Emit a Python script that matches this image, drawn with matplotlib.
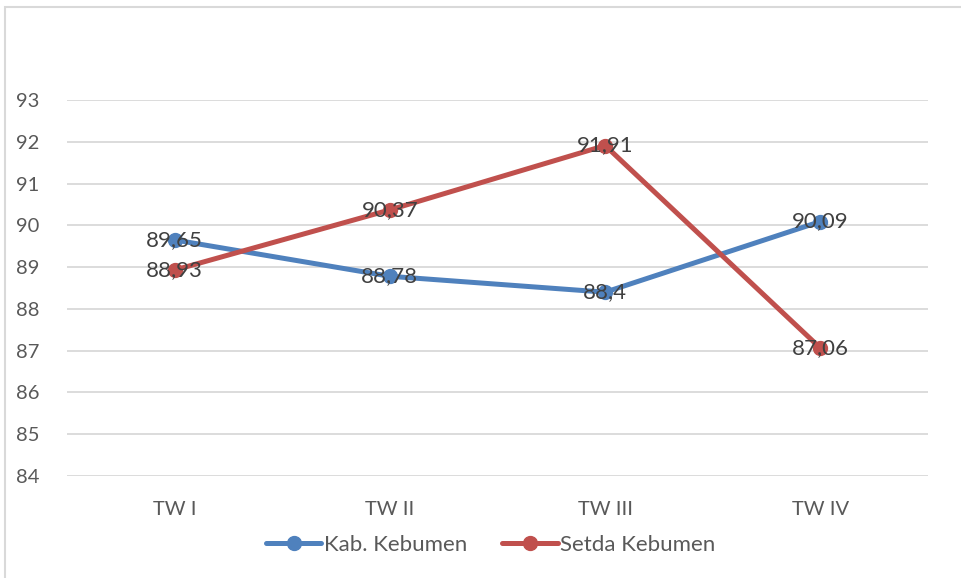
import matplotlib
matplotlib.use("Agg")
import matplotlib.pyplot as plt
from matplotlib.patches import Rectangle

# Data
categories = ["TW I", "TW II", "TW III", "TW IV"]
kab_kebumen = [89.65, 88.78, 88.4, 90.09]
setda_kebumen = [88.93, 90.37, 91.91, 87.06]
kab_labels = ["89,65", "88,78", "88,4", "90,09"]
setda_labels = ["88,93", "90,37", "91,91", "87,06"]
y_ticks = [84, 85, 86, 87, 88, 89, 90, 91, 92, 93]

BLUE = "#4F81BD"
RED = "#C0504D"
GRID = "#D9D9D9"
TEXT = "#595959"
LABEL = "#404040"

plt.rcParams['font.family'] = ['Lato', 'DejaVu Sans']

fig = plt.figure(figsize=(9.62, 5.78), dpi=100)
ax = fig.add_axes([0.0697, 0.1765, 0.895, 0.6505])

x = list(range(len(categories)))
ax.plot(x, kab_kebumen, color=BLUE, lw=3.6, marker='o', ms=10,
        solid_capstyle='round', label='Kab. Kebumen', zorder=3)
ax.plot(x, setda_kebumen, color=RED, lw=3.6, marker='o', ms=10,
        solid_capstyle='round', label='Setda Kebumen', zorder=3)

# data labels centred on the points
for xi, v, t in zip(x, kab_kebumen, kab_labels):
    ax.text(xi, v, t, ha='center', va='center', fontsize=16, color=LABEL, zorder=4)
for xi, v, t in zip(x, setda_kebumen, setda_labels):
    ax.text(xi, v, t, ha='center', va='center', fontsize=16, color=LABEL, zorder=4)

ax.set_xlim(-0.5, len(categories) - 0.5)
ax.set_ylim(84, 93)
ax.set_yticks(y_ticks)
ax.set_xticks(x)
ax.set_xticklabels(categories)
ax.grid(axis='y', color=GRID, lw=1.3)
ax.set_axisbelow(True)
for s in ax.spines.values():
    s.set_visible(False)
ax.tick_params(length=0, labelsize=14.5, colors=TEXT)
ax.tick_params(axis='x', pad=18)
ax.tick_params(axis='y', pad=37)
for lab in ax.get_yticklabels():
    lab.set_horizontalalignment('left')

leg = fig.legend(loc='center', bbox_to_anchor=(0.51, 0.057), ncol=2, frameon=False,
                 fontsize=16, handlelength=2.5, handletextpad=0.1, columnspacing=1.6)
for t in leg.get_texts():
    t.set_color(TEXT)

# outer chart border
fig.patches.append(Rectangle((5 / 962, -0.1), 1.2, 1 - 7 / 578 + 0.1,
                             transform=fig.transFigure, fill=False,
                             edgecolor=GRID, lw=1.5))

fig.savefig("out.png", dpi=100)
